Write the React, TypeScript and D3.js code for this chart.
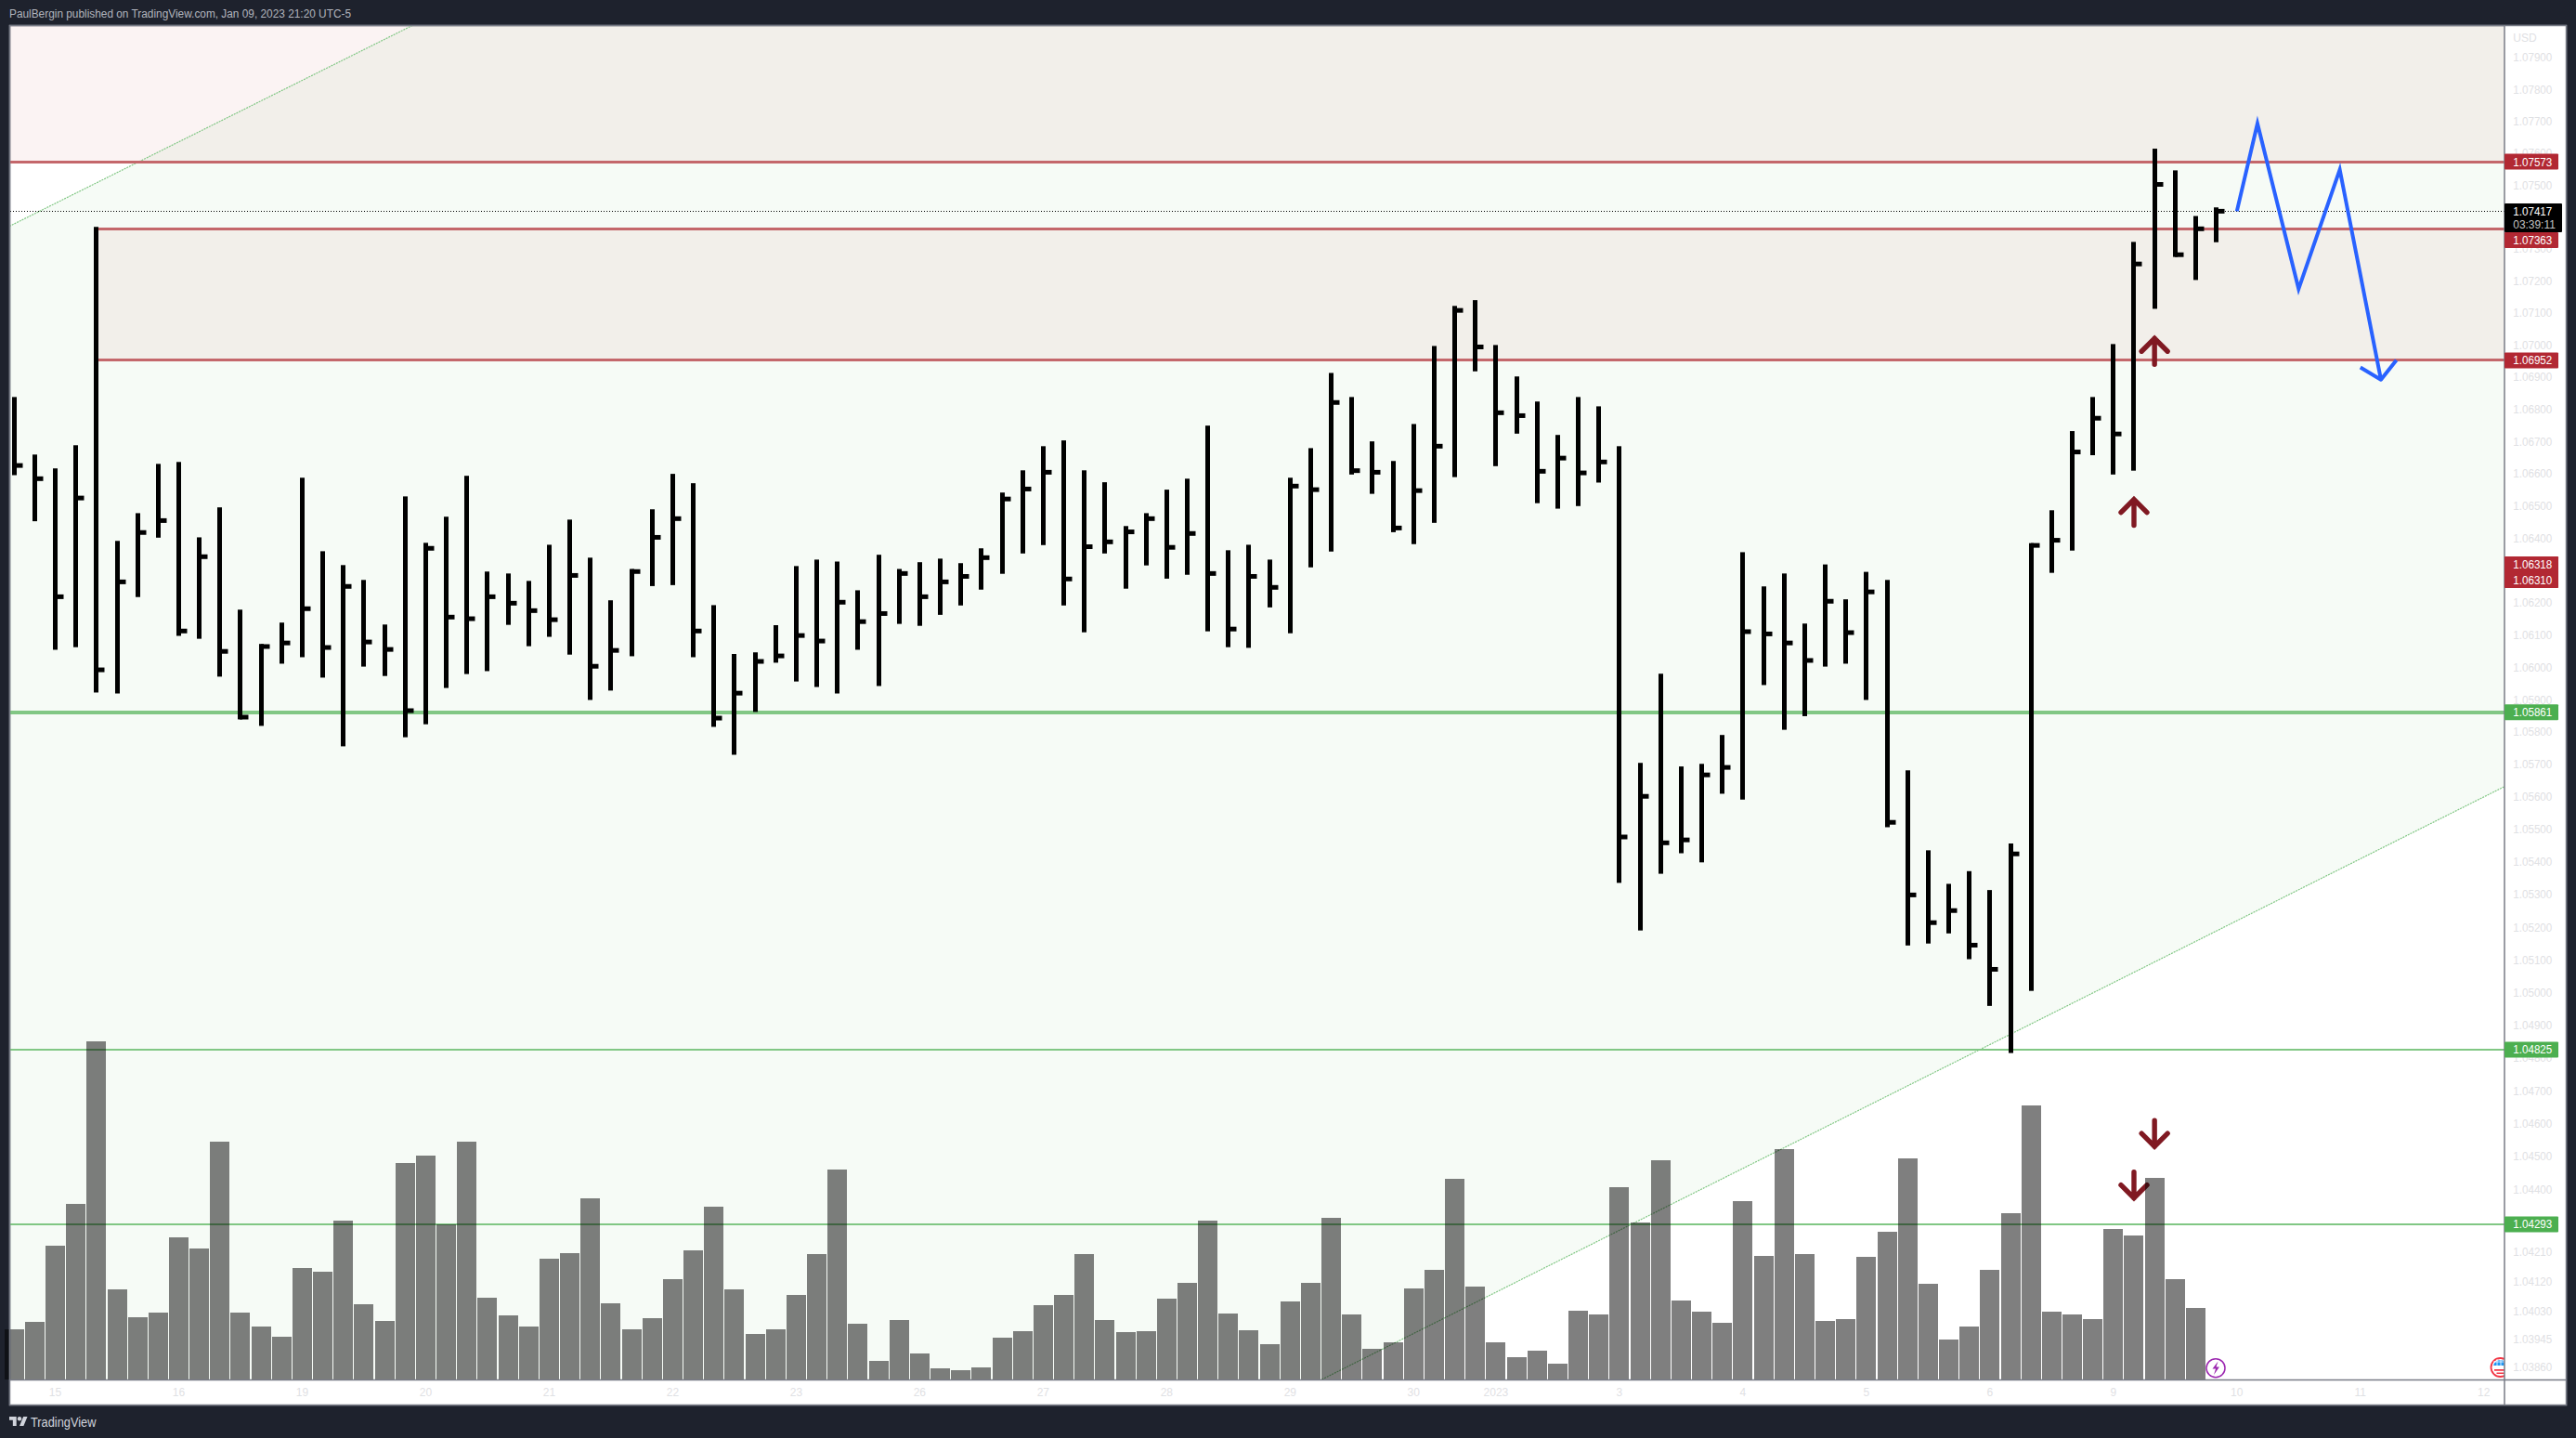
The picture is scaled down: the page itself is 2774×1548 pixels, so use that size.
import React from "react";
import * as d3 from "d3";

const highs = [
  1.06838,1.06659,1.06616,1.06688,1.07369,1.06391,1.06477,1.0663,1.06636,1.06402,
  1.06495,1.06178,1.06072,1.06138,1.06587,1.06359,1.06316,1.0627,1.06132,1.06529,
  1.06385,1.06466,1.06593,1.06296,1.0629,1.06267,1.06379,1.06457,1.06339,1.06207,
  1.06304,1.06489,1.06599,1.0657,1.06192,1.06041,1.06046,1.0613,1.06313,1.06333,
  1.06327,1.06238,1.06348,1.06304,1.06325,1.06336,1.06322,1.06368,1.06541,1.0661,
  1.06685,1.06703,1.0661,1.06573,1.06437,1.06477,1.0655,1.06584,1.06749,1.06362,
  1.06379,1.06333,1.06587,1.06679,1.06913,1.06838,1.067,1.06639,1.06754,1.06997,
  1.07122,1.0714,1.07,1.06902,1.06824,1.0672,1.06838,1.06809,1.06685,1.05705,
  1.0598,1.05694,1.05702,1.05791,1.06356,1.0625,1.0629,1.06135,1.06318,1.0621,
  1.06295,1.0627,1.05682,1.05436,1.05333,1.05372,1.05314,1.05457,1.06384,1.06486,
  1.06732,1.06838,1.07003,1.07322,1.07614,1.07546,1.07403,1.0743,
];
const lows = [
  1.06595,1.06452,1.06054,1.06062,1.05922,1.05919,1.06217,1.06401,1.06097,1.06088,
  1.05971,1.05839,1.05819,1.06011,1.06031,1.05968,1.05756,1.06002,1.05973,1.05784,
  1.05824,1.05936,1.05979,1.05988,1.06131,1.06065,1.06094,1.06039,1.05899,1.05928,
  1.06034,1.06251,1.06254,1.06031,1.05816,1.0573,1.05862,1.06014,1.05956,1.05939,
  1.05919,1.06054,1.05942,1.06134,1.06128,1.06162,1.06191,1.0624,1.06289,1.06352,
  1.06378,1.06191,1.06108,1.06352,1.06243,1.06315,1.06274,1.06286,1.06111,1.06062,
  1.0606,1.06185,1.06105,1.06309,1.06358,1.06597,1.06537,1.06418,1.06381,1.06447,
  1.06589,1.06918,1.06623,1.06724,1.06508,1.06491,1.06499,1.06572,1.05336,1.0519,
  1.05364,1.05427,1.05399,1.0561,1.05592,1.05945,1.05807,1.05849,1.06002,1.06011,
  1.05899,1.05507,1.05144,1.0515,1.05181,1.05102,1.04959,1.04815,1.05005,1.06292,
  1.06361,1.06657,1.06597,1.06609,1.07113,1.07275,1.07203,1.07321,
];
const closes = [
  1.06625,1.06584,1.06218,1.06524,1.05992,1.06264,1.06417,1.06454,1.06112,1.06342,
  1.06049,1.05846,1.06064,1.06075,1.06181,1.06061,1.0625,1.06078,1.06055,1.05866,
  1.06368,1.06155,1.0615,1.06218,1.06198,1.06175,1.06147,1.06284,1.06003,1.06052,
  1.06296,1.06402,1.0646,1.06112,1.05843,1.0592,1.06018,1.06035,1.06098,1.06081,
  1.06201,1.06141,1.06166,1.0629,1.06218,1.06264,1.06281,1.06339,1.06521,1.06552,
  1.06604,1.06273,1.06373,1.06388,1.06419,1.0646,1.06371,1.06414,1.0629,1.06118,
  1.06281,1.06247,1.06561,1.0655,1.06821,1.06609,1.06604,1.06431,1.06547,1.06685,
  1.07108,1.06994,1.06789,1.0678,1.06607,1.06648,1.06602,1.06636,1.05477,1.05602,
  1.05459,1.05468,1.05668,1.05691,1.0611,1.06103,1.06075,1.06021,1.06204,1.06107,
  1.06233,1.05522,1.05299,1.05214,1.05251,1.05145,1.05071,1.05425,1.06377,1.06393,
  1.06667,1.06772,1.06723,1.07253,1.07502,1.07282,1.07363,1.07418,
];
const volumes = [
  162,186,432,567,1092,291,201,216,459,423,
  768,216,171,138,360,348,513,243,189,699,
  723,501,768,264,207,171,390,408,585,246,
  162,198,324,417,558,291,147,162,273,405,
  678,180,60,192,84,36,30,39,135,156,
  240,273,405,192,153,156,261,312,513,213,
  159,114,252,312,522,210,99,120,294,354,
  648,300,120,72,93,51,222,210,621,507,
  708,255,219,183,576,399,744,405,189,195,
  396,477,714,309,129,171,354,537,885,219,
  210,195,486,465,651,324,231,0,
];
const priceTicks = [
  1.079,1.078,1.077,1.076,1.075,1.073,1.072,1.071,1.07,1.069,1.068,1.067,1.066,1.065,1.064,
  1.062,1.061,1.06,1.059,1.058,1.057,1.056,1.055,1.054,1.053,1.052,1.051,1.05,1.049,
  1.048,1.047,1.046,1.045,1.044,1.0421,1.0412,1.0403,1.03945,1.0386,
];
const timeLabels = ["15","16","19","20","21","22","23","26","27","28","29","30","2023","3","4","5","6","9","10","11","12"];
const timeIndexes = [2,8,14,20,26,32,38,44,50,56,62,68,72,78,84,90,96,102,108,114,120];
const redLevels = [1.07573, 1.07363, 1.06952];
const greenLevels = [1.05861, 1.04825, 1.04293];
const greenWidths = [4, 2, 2];
const lastPrice = 1.07417;
const projectionIdx = [108, 109, 111, 113, 115];
const projectionPx = [1.07418, 1.07693, 1.07175, 1.07548, 1.06892];
const headIdx = [114, 115, 115.75];
const headPx = [1.0693, 1.06892, 1.06953];
const upArrowIdx = [104, 103];
const upArrowPx = [1.07028, 1.06527];
const downArrowIdx = [104, 103];
const downArrowPx = [1.04523, 1.04366];
const channelUpper = [[-0.23, 1.07371], [19.35, 1.08001]];
const channelLower = [[63.3, 1.03815], [121, 1.05632]];

const FONT = "'Liberation Sans', Arial, sans-serif";
const BG = "#1e222d";
const BORDER = "#787b86";
const PINK = "#b01410";
const left = 11, right = 2697, top = 28, bottom = 1485;

const x = d3.scaleLinear().domain([0, 107]).range([15.2, 15.2 + 107 * 22.163]);
const y = d3.scaleLog().domain([1.079, 1.0386]).range([62, 1471.7]);
const v = d3.scaleLinear().domain([0, 1092]).range([1485, 1121]);
const path = d3.line<[number, number]>().x((d) => x(d[0])).y((d) => y(d[1]));

const zip = (a: number[], b: number[]) => a.map((d, i) => [d, b[i]] as [number, number]);
const snap = (n: number, w: number) => (w % 2 ? Math.floor(n) + 0.5 : Math.round(n));

function Tag({ price, cy, color }: { price: number; cy: number; color: string }) {
  return (
    <g>
      <rect x={right} y={cy - 8.5} width={58} height={17} rx={1} fill={color} />
      <text x={2706.3} y={cy + 4.4} fill="#fff" fontSize={12} fontFamily={FONT} textLength={42} lengthAdjust="spacingAndGlyphs">{price.toFixed(5)}</text>
    </g>
  );
}

function Arrow({ cx, tip, dir }: { cx: number; tip: number; dir: 1 | -1 }) {
  const t = tip + dir * 2.5;
  const d = `M${cx} ${t + dir * 28}L${cx} ${t}M${cx - 14} ${t + dir * 14}L${cx} ${t}L${cx + 14} ${t + dir * 14}`;
  return <path d={d} fill="none" stroke="#801922" strokeWidth={5.4} strokeLinecap="round" strokeLinejoin="miter" />;
}

export default function App() {
  const uy0 = y(channelUpper[0][1]), uy1 = y(channelUpper[1][1]);
  const ux0 = x(channelUpper[0][0]), ux1 = x(channelUpper[1][0]);
  const ly0 = y(channelLower[0][1]), ly1 = y(channelLower[1][1]);
  const lx0 = x(channelLower[0][0]), lx1 = x(channelLower[1][0]);
  const redY = redLevels.map((p) => snap(y(p), 3));
  const barStart = x(4);
  return (
    <svg width={2774} height={1548} style={{ position: "fixed", left: 0, top: 0, display: "block" }}>
      <defs>
        <clipPath id="plot"><rect x={left} y={top} width={right - left} height={bottom - top} /></clipPath>
      </defs>
      <rect width={2774} height={1548} fill={BG} />
      <rect x={10.5} y={27.5} width={2753} height={1485} fill="#fff" stroke={BORDER} strokeWidth={1.5} />
      <g clipPath="url(#plot)">
        <polygon
          points={`${ux0},${uy0} ${ux1},${uy1} ${right},${top} ${right},${ly1} ${lx0},${ly0} ${left},${bottom} ${left},${uy0}`}
          fill="#4caf50" fillOpacity={0.05}
        />
        <rect x={left} y={top} width={right - left} height={redY[0] - top} fill={PINK} fillOpacity={0.05} />
        <rect x={barStart} y={redY[1]} width={right - barStart} height={redY[2] - redY[1]} fill={PINK} fillOpacity={0.05} />
        <line x1={ux0} y1={uy0} x2={ux1} y2={uy1} stroke="#81c784" strokeWidth={1.2} strokeDasharray="2 1" />
        <line x1={lx0} y1={ly0} x2={lx1} y2={ly1} stroke="#81c784" strokeWidth={1.2} strokeDasharray="2 1" />
        <line x1={left} x2={right} y1={snap(y(lastPrice), 1)} y2={snap(y(lastPrice), 1)} stroke="#000" strokeWidth={1} strokeDasharray="1 2" />
        <line x1={left} x2={right} y1={redY[0]} y2={redY[0]} stroke="#c4676b" strokeWidth={3} />
        <line x1={barStart} x2={right} y1={redY[1]} y2={redY[1]} stroke="#c4676b" strokeWidth={3} />
        <line x1={barStart} x2={right} y1={redY[2]} y2={redY[2]} stroke="#c4676b" strokeWidth={3} />
        {greenLevels.map((p, i) => (
          <line key={p} x1={left} x2={right} y1={snap(y(p), greenWidths[i])} y2={snap(y(p), greenWidths[i])} stroke="#81c784" strokeWidth={greenWidths[i]} />
        ))}
        <path d={path(zip(projectionIdx, projectionPx)) || ""} fill="none" stroke="#2962ff" strokeWidth={4} strokeLinejoin="miter" strokeMiterlimit={12} />
        <path d={path(zip(headIdx, headPx)) || ""} fill="none" stroke="#2962ff" strokeWidth={4} strokeLinejoin="round" />
        {upArrowIdx.map((d, i) => <Arrow key={d} cx={x(d)} tip={y(upArrowPx[i])} dir={1} />)}
        {downArrowIdx.map((d, i) => <Arrow key={d} cx={x(d)} tip={y(downArrowPx[i])} dir={-1} />)}
      </g>
      <g>
        {volumes.map((d, i) => d > 0 && (
          <rect key={i} x={Math.round(x(i) - 10.5)} y={v(d)} width={21} height={v(0) - v(d)} fill="#000" fillOpacity={0.5} />
        ))}
      </g>
      <g fill="#000">
        {highs.map((h, i) => {
          const cx = Math.round(x(i) - 2.5);
          return (
            <g key={i}>
              <rect x={cx} y={y(h)} width={5} height={y(lows[i]) - y(h)} />
              <rect x={cx + 2} y={y(closes[i]) - 2.5} width={9.5} height={5} />
            </g>
          );
        })}
      </g>
      <g>
        <circle cx={2386} cy={1472.7} r={10} fill="#fff" stroke="#9c27b0" strokeWidth={1.5} />
        <path d="M2388.5 1465.5L2382.5 1473.5H2386L2384 1480L2390 1471.5H2386.5Z" fill="#9c27b0" />
        <circle cx={2692.5} cy={1472} r={10} fill="#fff" stroke="#f23645" strokeWidth={1.8} />
        <path d="M2685 1470a7.8 7.8 0 0 1 15 0Z" fill="#2196f3" />
        <path d="M2686 1474h13v1.8h-13zM2688.5 1477.5h8v1.6h-8z" fill="#f23645" />
        <path d="M2689 1463v7M2693 1463v7M2697 1463v7M2685 1466h15" stroke="#fff" strokeWidth={0.8} />
      </g>
      <rect x={right} y={top} width={2763 - right} height={1512 - top} fill="#fff" />
      <rect x={11} y={bottom + 0.6} width={2686} height={26.6} fill="#fff" />
      <line x1={right} x2={right} y1={27} y2={1512.5} stroke={BORDER} strokeWidth={1.5} />
      <line x1={10.5} x2={2763.5} y1={1485.5} y2={1485.5} stroke={BORDER} strokeWidth={1.3} />
      <rect x={10.5} y={27.5} width={2753} height={1485} fill="none" stroke={BORDER} strokeWidth={1.5} />
      <g fontFamily={FONT} fontSize={12} fill="#dfe1e4">
        <text x={2706.3} y={45}>USD</text>
        {priceTicks.map((t) => (
          <text key={t} x={2706.3} y={y(t) + 4.4} textLength={42} lengthAdjust="spacingAndGlyphs">{t.toFixed(5)}</text>
        ))}
        {timeLabels.map((t, i) => (
          <text key={t} x={x(timeIndexes[i])} y={1503.4} textAnchor="middle">{t}</text>
        ))}
      </g>
      <Tag price={redLevels[0]} cy={y(redLevels[0])} color="#b22833" />
      <Tag price={redLevels[2]} cy={y(redLevels[2])} color="#b22833" />
      <rect x={right} y={599} width={58} height={34} rx={1} fill="#b22833" />
      <Tag price={1.06318} cy={607.7} color="#b22833" />
      <Tag price={1.0631} cy={624.3} color="#b22833" />
      <Tag price={redLevels[1]} cy={258.4} color="#b22833" />
      {greenLevels.map((p) => <Tag key={p} price={p} cy={y(p)} color="#4caf50" />)}
      <rect x={right} y={219} width={62} height={31} rx={1} fill="#000" />
      <text x={2706.3} y={231.8} fill="#fff" fontSize={12} fontFamily={FONT} textLength={42} lengthAdjust="spacingAndGlyphs">{lastPrice.toFixed(5)}</text>
      <text x={2706.3} y={246.1} fill="#c4c4c4" fontSize={12} fontFamily={FONT} textLength={45.5} lengthAdjust="spacingAndGlyphs">03:39:11</text>
      <text x={10} y={19.3} fill="#b2b5be" fontSize={12.5} fontFamily={FONT} textLength={368} lengthAdjust="spacingAndGlyphs">
        PaulBergin published on TradingView.com, Jan 09, 2023 21:20 UTC-5
      </text>
      <g transform="translate(10,1522.8) scale(0.55)" fill="#d1d4dc">
        <path d="M14 22H7V11H0V4h14v18zM28 22h-8l7.5-18h8L28 22z" />
        <circle cx={20} cy={8} r={4} />
      </g>
      <text x={33} y={1535.5} fill="#d1d4dc" fontSize={14} fontFamily={FONT} textLength={70.5} lengthAdjust="spacingAndGlyphs">TradingView</text>
    </svg>
  );
}
